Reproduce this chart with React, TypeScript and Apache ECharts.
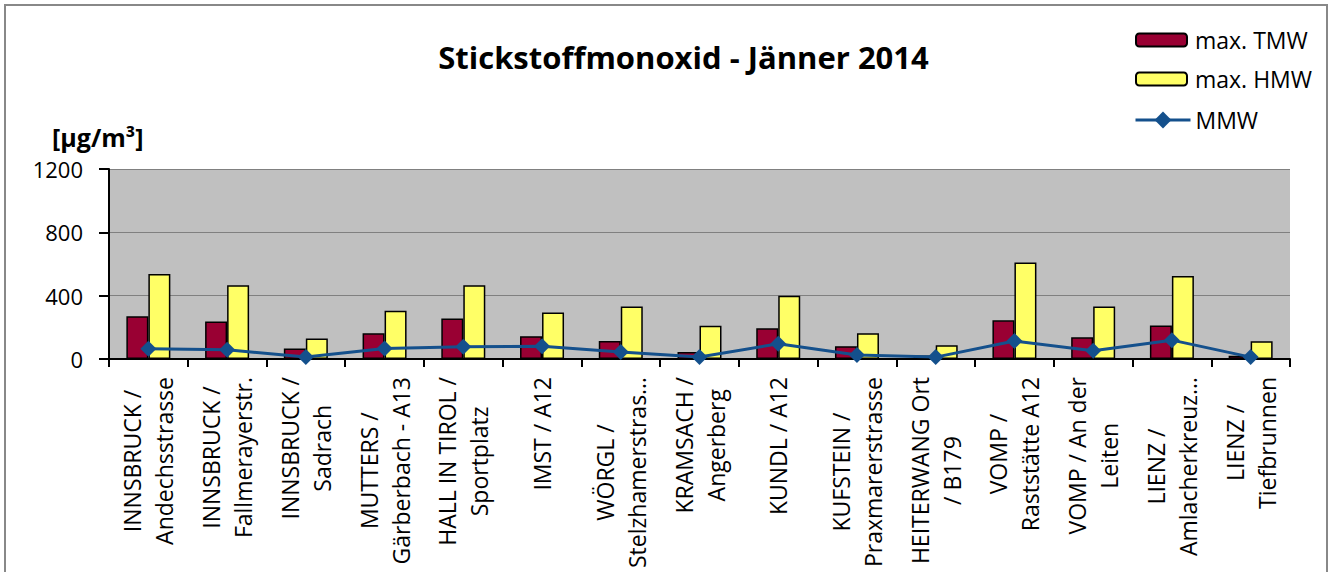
import React, { useEffect, useRef } from "react";
import * as echarts from "echarts";

const categories: string[] = [
  "INNSBRUCK /\nAndechsstrasse",
  "INNSBRUCK /\nFallmerayerstr.",
  "INNSBRUCK /\nSadrach",
  "MUTTERS /\nGärberbach - A13",
  "HALL IN TIROL /\nSportplatz",
  "IMST / A12",
  "WÖRGL /\nStelzhamerstras…",
  "KRAMSACH /\nAngerberg",
  "KUNDL / A12",
  "KUFSTEIN /\nPraxmarerstrasse",
  "HEITERWANG Ort\n/ B179",
  "VOMP /\nRaststätte A12",
  "VOMP / An der\nLeiten",
  "LIENZ /\nAmlacherkreuz…",
  "LIENZ /\nTiefbrunnen",
];

const maxTMW: number[] = [270, 237, 66, 162, 256, 144, 114, 44, 194, 81, 22, 244, 137, 212, 20];
const maxHMW: number[] = [537, 466, 129, 304, 466, 294, 331, 210, 400, 162, 87, 610, 331, 525, 112];
const mmw: number[] = [64, 58, 12, 66, 77, 81, 44, 12, 96, 25, 12, 114, 52, 119, 12];

const yTicks = { min: 0, max: 1200, interval: 400 };

const titleText = "Stickstoffmonoxid - Jänner 2014";
const unitText = "[µg/m³]";
const seriesNames = ["max. TMW", "max. HMW", "MMW"];

const FONT = "'Open Sans', sans-serif";
const LABEL_FONT = `23px ${FONT}`;

let measureCtx: CanvasRenderingContext2D | null = null;
function measure(text: string): number {
  if (!measureCtx) {
    measureCtx = document.createElement("canvas").getContext("2d");
  }
  if (!measureCtx) return text.length * 12;
  measureCtx.font = LABEL_FONT;
  return measureCtx.measureText(text).width;
}

export default function App() {
  const ref = useRef<HTMLDivElement>(null);
  useEffect(() => {
    const chart = echarts.init(ref.current!, null, { renderer: "svg" });
    const labelMargin = 18;
    const linePitch = 32;
    const option: any = {
      animation: false,
      backgroundColor: "#ffffff",
      textStyle: { fontFamily: FONT },
      grid: {
        left: 109,
        right: 40,
        top: 169,
        bottom: 213,
        show: true,
        backgroundColor: "#c0c0c0",
        borderWidth: 0,
      },
      legend: [
        {
          orient: "vertical",
          left: 1135,
          top: 27,
          padding: 0,
          itemWidth: 51,
          itemHeight: 13,
          itemGap: 13,
          data: [seriesNames[0], seriesNames[1]],
          textStyle: {
            fontSize: 23,
            lineHeight: 26,
            fontFamily: FONT,
            color: "#000",
            padding: [0, 0, 0, 3],
          },
        },
        {
          orient: "vertical",
          left: 1134,
          top: 107,
          padding: 0,
          itemWidth: 55,
          itemHeight: 21,
          data: [seriesNames[2]],
          lineStyle: { width: 3 },
          textStyle: {
            fontSize: 23,
            lineHeight: 26,
            fontFamily: FONT,
            color: "#000",
            padding: [0, 0, 0, 0],
          },
        },
      ],
      xAxis: {
        type: "category",
        data: categories,
        boundaryGap: true,
        axisLine: { show: true, lineStyle: { color: "#000", width: 2 } },
        axisTick: { show: true, interval: 0, length: 8, lineStyle: { color: "#000", width: 2 } },
        axisLabel: { show: false },
        splitLine: { show: false },
      },
      yAxis: {
        type: "value",
        min: yTicks.min,
        max: yTicks.max,
        interval: yTicks.interval,
        axisLine: { show: true, lineStyle: { color: "#000", width: 2 } },
        axisTick: { show: true, length: 10, lineStyle: { color: "#000", width: 2 } },
        axisLabel: {
          fontSize: 22,
          color: "#000",
          margin: 26,
          fontFamily: FONT,
          formatter: (v: number) => String(v),
        },
        splitLine: { show: true, lineStyle: { color: "#808080", width: 1 } },
      },
      series: [
        {
          name: seriesNames[0],
          type: "bar",
          data: maxTMW,
          barWidth: 22,
          barGap: "0%",
          itemStyle: { color: "#990033", borderColor: "#000", borderWidth: 1.5 },
        },
        {
          name: seriesNames[1],
          type: "bar",
          data: maxHMW,
          barWidth: 22,
          barGap: "0%",
          itemStyle: { color: "#ffff66", borderColor: "#000", borderWidth: 1.5 },
        },
        {
          name: seriesNames[2],
          type: "line",
          data: mmw,
          z: 5,
          symbol: "diamond",
          symbolSize: 16,
          lineStyle: { color: "#14508c", width: 3 },
          itemStyle: { color: "#14508c" },
        },
        {
          type: "custom",
          silent: true,
          clip: false,
          z: 10,
          data: categories.map((_, i) => [i, 0]),
          renderItem: (params: any, api: any) => {
            const idx = api.value(0);
            const p = api.coord([idx, 0]);
            const lines = categories[idx].split("\n");
            const maxW = Math.max(...lines.map(measure));
            const cy = p[1] + labelMargin + maxW / 2;
            const n = lines.length;
            return {
              type: "group",
              children: lines.map((l, k) => ({
                type: "text",
                x: p[0] + (k - (n - 1) / 2) * linePitch,
                y: cy,
                rotation: Math.PI / 2,
                style: {
                  text: l,
                  font: LABEL_FONT,
                  fill: "#000",
                  align: "center",
                  verticalAlign: "middle",
                },
              })),
            };
          },
        },
      ],
      graphic: [
        {
          type: "rect",
          shape: { x: 5, y: 5, width: 1322, height: 640 },
          style: { fill: "none", stroke: "#888888", lineWidth: 2 },
          silent: true,
        },
        {
          type: "text",
          x: 683.5,
          y: 57,
          style: {
            text: titleText,
            fill: "#000",
            font: `bold 31px ${FONT}`,
            textAlign: "center",
            textVerticalAlign: "middle",
          },
        },
        {
          type: "text",
          x: 52,
          y: 137,
          style: {
            text: unitText,
            fill: "#000",
            font: `bold 25px ${FONT}`,
            textAlign: "left",
            textVerticalAlign: "middle",
          },
        },
      ],
    };
    chart.setOption(option);
    return () => chart.dispose();
  }, []);
  return (
    <div
      ref={ref}
      style={{ position: "fixed", left: 0, top: 0, width: 1330, height: 572, background: "#fff" }}
    />
  );
}
